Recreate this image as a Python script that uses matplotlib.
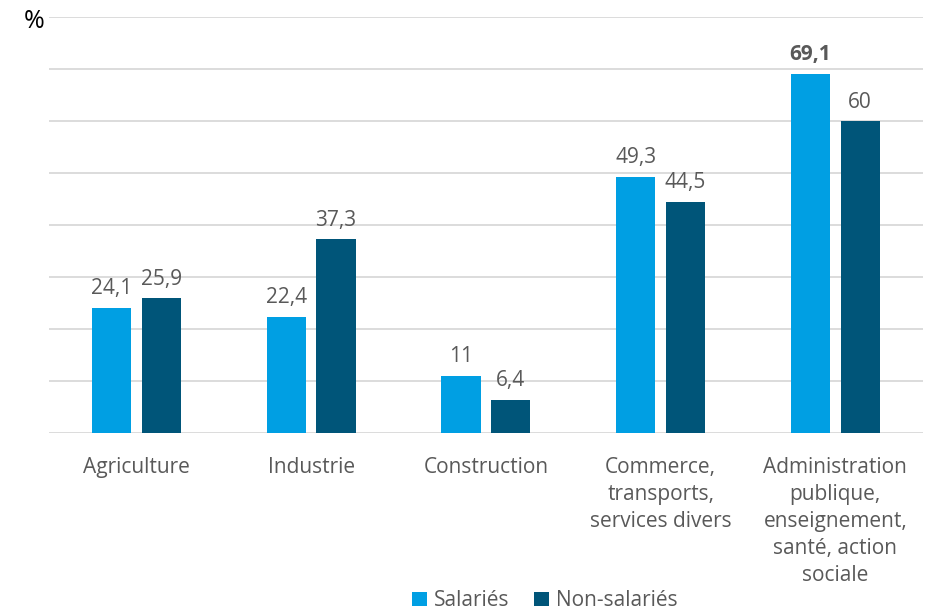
import matplotlib.pyplot as plt
import numpy as np

plt.rcParams['font.family'] = ['Open Sans', 'DejaVu Sans']

# data
categories = ["Agriculture", "Industrie", "Construction",
              "Commerce,\ntransports,\nservices divers",
              "Administration\npublique,\nenseignement,\nsanté, action\nsociale"]
salaries = [24.1, 22.4, 11, 49.3, 69.1]
non_salaries = [25.9, 37.3, 6.4, 44.5, 60]
labels_sal = ["24,1", "22,4", "11", "49,3", "69,1"]
labels_non = ["25,9", "37,3", "6,4", "44,5", "60"]

c_sal = "#009fe3"
c_non = "#005579"
txt = "#595959"

fig = plt.figure(figsize=(9.3, 6.11), dpi=100)
ax = fig.add_axes([0.0527, 0.2913, 0.9395, 0.6809])

x = np.arange(len(categories))
w = 0.225
off = 0.142
b1 = ax.bar(x - off, salaries, w, color=c_sal, label="Salariés", zorder=3)
b2 = ax.bar(x + off, non_salaries, w, color=c_non, label="Non-salariés", zorder=3)

for i, (r, l) in enumerate(zip(b1, labels_sal)):
    bold = "bold" if i == 4 else "normal"
    ax.annotate(l, (r.get_x() + r.get_width() / 2, r.get_height()),
                xytext=(0, 6), textcoords="offset points", ha="center",
                va="bottom", fontsize=15, color=txt, fontweight=bold)
for r, l in zip(b2, labels_non):
    ax.annotate(l, (r.get_x() + r.get_width() / 2, r.get_height()),
                xytext=(0, 6), textcoords="offset points", ha="center",
                va="bottom", fontsize=15, color=txt)

ax.set_xlim(-0.5, 4.5)
ax.set_ylim(0, 80)
ax.set_yticks(np.arange(0, 81, 10))
ax.yaxis.grid(True, color="#d9d9d9", linewidth=1.3, zorder=0)
ax.tick_params(axis="y", length=0, labelleft=False)
ax.tick_params(axis="x", length=0, pad=17)
ax.set_xticks(x)
ax.set_xticklabels(categories, fontsize=15, color=txt, linespacing=1.38, va="top")
for s in ax.spines.values():
    s.set_visible(False)

fig.text(0.025, 0.965, "%", fontsize=18, color="black", ha="left", va="center")

fig.legend(loc="center", bbox_to_anchor=(0.586, 0.017), ncol=2, frameon=False,
           fontsize=15, handlelength=0.7, handleheight=0.7, handletextpad=0.35,
           columnspacing=1.2, labelcolor=txt)

fig.savefig("out.png", dpi=100)
